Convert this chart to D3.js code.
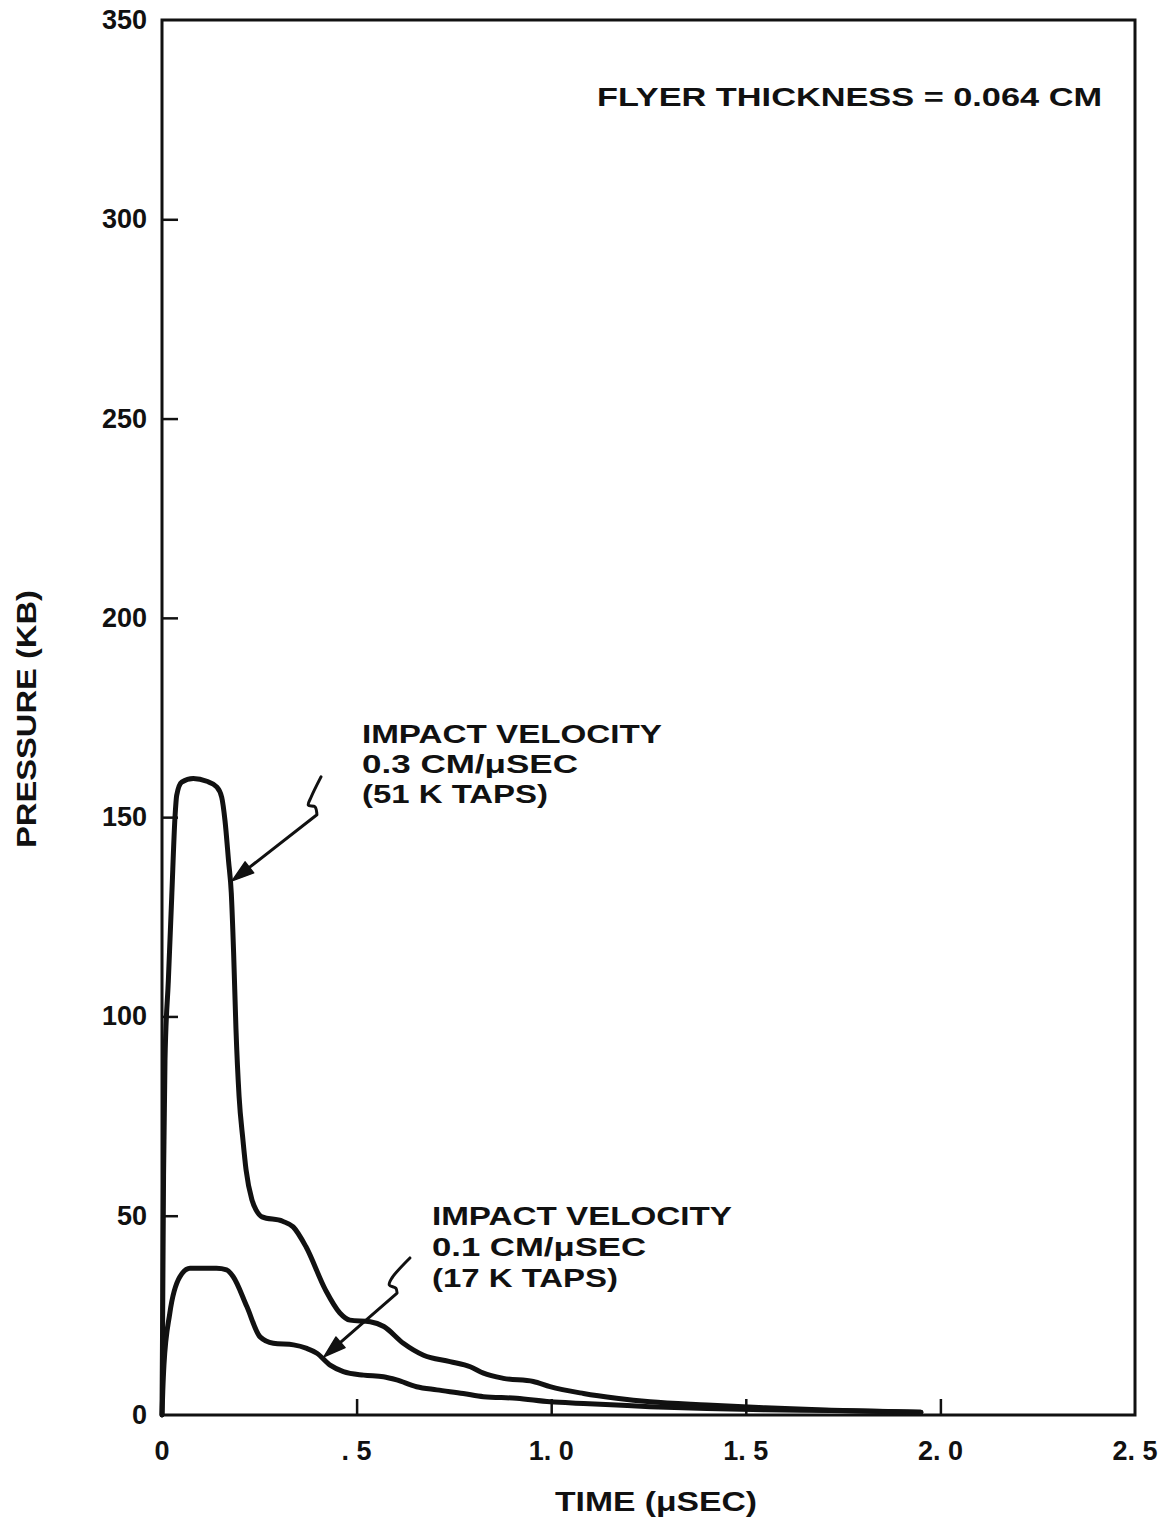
<!DOCTYPE html>
<html>
<head>
<meta charset="utf-8">
<script src="https://cdn.jsdelivr.net/npm/d3@7"></script>
<style>
  html, body { margin: 0; padding: 0; background: #fff; }
  svg text { font-family: "Liberation Sans", Arial, Helvetica, sans-serif; font-weight: bold; fill: #111; }
</style>
</head>
<body>
<svg id="chart" width="1167" height="1517"></svg>
<script>
// ---- data ----
const xTicks = [0, 0.5, 1.0, 1.5, 2.0, 2.5];
const xTickLabels = ["0", ". 5", "1. 0", "1. 5", "2. 0", "2. 5"];
const yTicks = [0, 50, 100, 150, 200, 250, 300, 350];
const yTickLabels = ["0", "50", "100", "150", "200", "250", "300", "350"];

// Impact velocity 0.3 cm/µsec (51 ktaps)
const timeHigh = [0, 0.004, 0.0077, 0.0163, 0.025, 0.0334, 0.0378, 0.0506, 0.0804, 0.1149,
  0.1405, 0.1534, 0.162, 0.171, 0.178, 0.184, 0.19, 0.198, 0.208, 0.216,
  0.231, 0.242, 0.257, 0.31, 0.337, 0.37, 0.42, 0.457, 0.483, 0.535,
  0.57, 0.62, 0.672, 0.74, 0.792, 0.826, 0.877, 0.954, 0.997, 1.083,
  1.168, 1.254, 1.4, 1.55, 1.72, 1.95];
const pressureHigh = [0, 60, 89, 109, 130, 150, 155.5, 158.8, 159.7, 159,
  157.6, 155, 149, 139, 131, 116, 97, 80, 69, 61.5,
  54, 51.4, 49.7, 48.6, 47.2, 42.2, 31.4, 25.6, 23.8, 23.4,
  22.2, 18, 15, 13.4, 12.1, 10.5, 9.2, 8.4, 7.1, 5.4,
  4.2, 3.3, 2.5, 1.8, 1.2, 0.7];

// Impact velocity 0.1 cm/µsec (17 ktaps)
const timeLow = [0, 0.002, 0.005, 0.02, 0.046, 0.072, 0.14, 0.166, 0.183, 0.218,
  0.252, 0.286, 0.338, 0.372, 0.398, 0.432, 0.466, 0.518, 0.569, 0.603,
  0.654, 0.706, 0.774, 0.826, 0.911, 0.997, 1.083, 1.168, 1.254, 1.4,
  1.55, 1.72, 1.95];
const pressureLow = [0, 6, 12.5, 25.5, 34.7, 36.8, 36.8, 36.4, 34.7, 27.2,
  19.6, 18, 17.6, 16.7, 15.5, 12.5, 10.9, 10, 9.6, 8.8,
  7.1, 6.3, 5.4, 4.6, 4.2, 3.3, 2.9, 2.5, 2.1, 1.6,
  1.3, 1.1, 0.7];

const titleText = "FLYER THICKNESS = 0.064 CM";
const labelHigh = ["IMPACT VELOCITY", "0.3 CM/\u03BCSEC", "(51 K TAPS)"];
const labelLow = ["IMPACT VELOCITY", "0.1 CM/\u03BCSEC", "(17 K TAPS)"];

// ---- layout ----
const svg = d3.select("#chart");
const L = 162, R = 1135, T = 20, B = 1415;
const x = d3.scaleLinear().domain([0, 2.5]).range([L, R]);
const y = d3.scaleLinear().domain([0, 350]).range([B, T]);

// frame
svg.append("rect").attr("x", L).attr("y", T).attr("width", R - L).attr("height", B - T)
  .attr("fill", "none").attr("stroke", "#111").attr("stroke-width", 3);

// x axis ticks (inward)
const xAxis = d3.axisBottom(x).tickValues(xTicks.slice(1, 5)).tickSize(-16).tickFormat("");
const gx = svg.append("g").attr("transform", `translate(0,${B})`).call(xAxis);
gx.select(".domain").remove();
gx.selectAll(".tick line").attr("stroke", "#111").attr("stroke-width", 2.5);
svg.append("g").selectAll("text").data(xTicks).join("text")
  .attr("x", d => x(d)).attr("y", 1460).attr("text-anchor", "middle")
  .attr("font-size", 27)
  .text((d, i) => xTickLabels[i]);

// y axis ticks (inward)
const yAxis = d3.axisLeft(y).tickValues(yTicks.slice(1, 7)).tickSize(-16).tickFormat("");
const gy = svg.append("g").attr("transform", `translate(${L},0)`).call(yAxis);
gy.select(".domain").remove();
gy.selectAll(".tick line").attr("stroke", "#111").attr("stroke-width", 2.5);
svg.append("g").selectAll("text").data(yTicks).join("text")
  .attr("x", 147).attr("y", d => y(d) + 9).attr("text-anchor", "end")
  .attr("font-size", 27)
  .text((d, i) => yTickLabels[i]);

// axis titles
svg.append("text").attr("x", 656).attr("y", 1511).attr("text-anchor", "middle")
  .attr("font-size", 27).attr("textLength", 202).attr("lengthAdjust", "spacingAndGlyphs")
  .text("TIME (\u03BCSEC)");
svg.append("text").attr("transform", "translate(36,719) rotate(-90)")
  .attr("text-anchor", "middle").attr("font-size", 27)
  .attr("textLength", 258).attr("lengthAdjust", "spacingAndGlyphs")
  .text("PRESSURE (KB)");

// title
svg.append("text").attr("x", 597).attr("y", 106).attr("font-size", 26)
  .attr("textLength", 505).attr("lengthAdjust", "spacingAndGlyphs")
  .text(titleText);

// curves
const line = d3.line().x(d => x(d[0])).y(d => y(d[1])).curve(d3.curveMonotoneX);
const hiData = timeHigh.map((t, i) => [t, pressureHigh[i]]);
const loData = timeLow.map((t, i) => [t, pressureLow[i]]);
[hiData, loData].forEach(data => {
  svg.append("path").datum(data).attr("d", line)
    .attr("fill", "none").attr("stroke", "#111").attr("stroke-width", 5)
    .attr("stroke-linejoin", "round").attr("stroke-linecap", "round");
});

// annotation labels
const widthsHigh = [300, 216, 186];
labelHigh.forEach((s, i) => {
  svg.append("text").attr("x", 362).attr("y", 743 + i * 30).attr("font-size", 25)
    .attr("textLength", widthsHigh[i]).attr("lengthAdjust", "spacingAndGlyphs").text(s);
});
const widthsLow = [300, 214, 186];
labelLow.forEach((s, i) => {
  svg.append("text").attr("x", 432).attr("y", 1225 + i * 31).attr("font-size", 25)
    .attr("textLength", widthsLow[i]).attr("lengthAdjust", "spacingAndGlyphs").text(s);
});

// leader arrows (squiggle + straight shaft + filled head), anchored in data units
function leader(squiggle, tip) {
  const pts = squiggle.map(p => [x(p[0]), y(p[1])]);
  const tp = [x(tip[0]), y(tip[1])];
  const last = pts[pts.length - 1];
  const sq = d3.line().curve(d3.curveCatmullRom.alpha(0.5))(pts);
  const ang = Math.atan2(tp[1] - last[1], tp[0] - last[0]);
  const hl = 22, hw = 7;
  const base = [tp[0] - hl * Math.cos(ang), tp[1] - hl * Math.sin(ang)];
  svg.append("path").attr("d", sq + `L${base[0]},${base[1]}`)
    .attr("fill", "none").attr("stroke", "#111").attr("stroke-width", 3)
    .attr("stroke-linejoin", "round").attr("stroke-linecap", "round");
  const p1 = [base[0] + hw * Math.sin(ang), base[1] - hw * Math.cos(ang)];
  const p2 = [base[0] - hw * Math.sin(ang), base[1] + hw * Math.cos(ang)];
  svg.append("path").attr("d", `M${tp[0]},${tp[1]}L${p1[0]},${p1[1]}L${p2[0]},${p2[1]}Z`)
    .attr("fill", "#111").attr("stroke", "#111").attr("stroke-width", 1.5).attr("stroke-linejoin", "round");
}
// upper: squiggle near (0.40, 155) pointing to falling edge of the 0.3 curve
leader([[0.4085, 160.1], [0.383, 155.0], [0.376, 153.0], [0.393, 152.6], [0.398, 150.6]], [0.180, 134]);
// lower: squiggle near (0.60, 39) pointing to the 0.1 curve
leader([[0.637, 39.4], [0.591, 34.4], [0.584, 32.6], [0.601, 31.8], [0.604, 30.6]], [0.416, 14.6]);
</script>
</body>
</html>
